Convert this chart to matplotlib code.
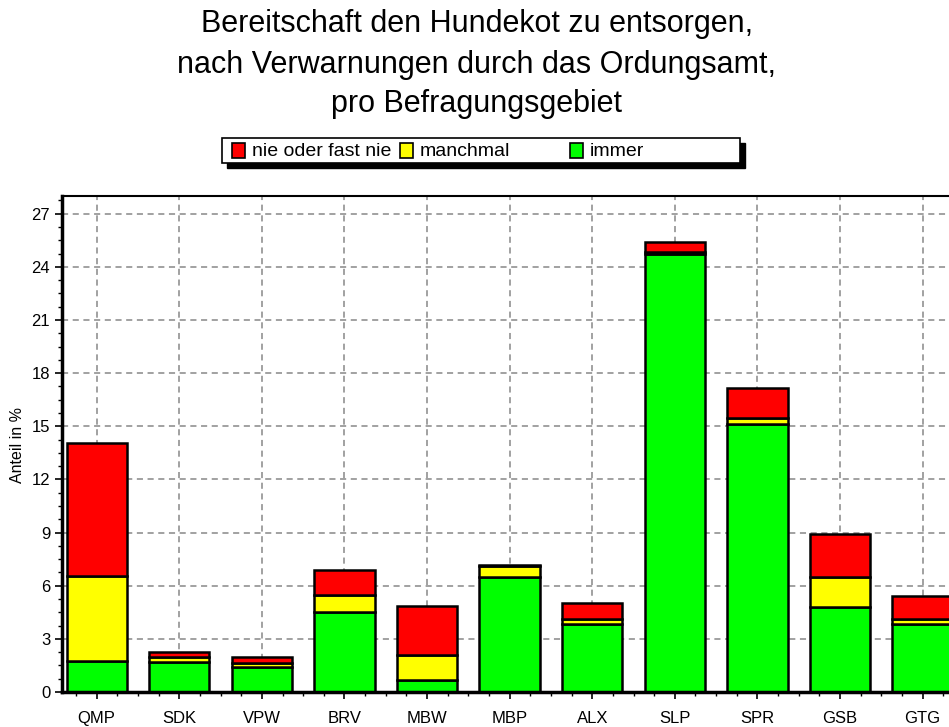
import numpy as np
import matplotlib
matplotlib.use("Agg")
import matplotlib.pyplot as plt
from matplotlib.patches import Rectangle
from matplotlib.ticker import MultipleLocator

# Anteil in % je Befragungsgebiet
gebiete = ["QMP", "SDK", "VPW", "BRV", "MBW", "MBP", "ALX", "SLP", "SPR", "GSB", "GTG"]
immer = [1.75, 1.7, 1.4, 4.5, 0.7, 6.5, 3.85, 24.75, 15.15, 4.8, 3.85]
manchmal = [4.8, 0.25, 0.25, 1.0, 1.4, 0.6, 0.25, 0.08, 0.3, 1.7, 0.28]
nie = [7.5, 0.3, 0.35, 1.4, 2.75, 0.05, 0.9, 0.6, 1.7, 2.4, 1.3]

legend_labels = ["nie oder fast nie", "manchmal", "immer"]
colors = ["#ff0000", "#ffff00", "#00ff00"]
title_lines = ["Bereitschaft den Hundekot zu entsorgen,",
               "nach Verwarnungen durch das Ordungsamt,",
               "pro Befragungsgebiet"]

plt.rcParams["font.family"] = ["Liberation Sans", "DejaVu Sans"]

W, H = 949, 727


def fx(px):
    return px / W


def fy(py):
    return 1 - py / H


fig = plt.figure(figsize=(W / 100, H / 100), dpi=100)
ax = fig.add_axes([fx(62), fy(692), fx(968) - fx(62), fy(196) - fy(692)])

x = np.arange(len(gebiete))
width = 0.73
kw = dict(width=width, edgecolor="black", linewidth=1.8, zorder=3)
ax.bar(x, immer, color=colors[2], **kw)
ax.bar(x, manchmal, bottom=immer, color=colors[1], **kw)
ax.bar(x, nie, bottom=np.add(immer, manchmal), color=colors[0], **kw)

ax.set_xlim(-0.42, 10.55)
ax.set_ylim(0, 28)
ax.set_xticks(x)
ax.set_xticklabels(gebiete)
ax.xaxis.set_minor_locator(MultipleLocator(0.25))
ax.yaxis.set_major_locator(MultipleLocator(3))
ax.yaxis.set_minor_locator(MultipleLocator(0.75))
ax.tick_params(axis="both", which="major", labelsize=12, length=5, width=1.2, colors="black")
ax.tick_params(axis="both", which="minor", length=3, width=1)
ax.tick_params(axis="x", pad=9)
ax.grid(True, which="major", linestyle=(0, (4, 3)), color="#888888", linewidth=1.1, zorder=0)
ax.set_axisbelow(True)

ax.spines["left"].set_linewidth(2.5)
ax.spines["bottom"].set_linewidth(2.5)
ax.spines["top"].set_linewidth(1.5)
ax.spines["right"].set_visible(False)
for s in ax.spines.values():
    s.set_zorder(5)

fig.text(fx(18), fy(445), "Anteil in %", rotation=90, fontsize=11.5,
         ha="center", va="center")

# Titel
for line, base in zip(title_lines, [32, 73, 112]):
    fig.text(fx(477), fy(base), line, fontsize=22, ha="center", va="baseline")

# Legende mit Schatten
fig.patches.append(Rectangle((fx(227), fy(168)), fx(518), fy(138) - fy(163),
                             transform=fig.transFigure, facecolor="black",
                             edgecolor="black", zorder=1))
fig.patches.append(Rectangle((fx(222), fy(163)), fx(518), fy(138) - fy(163),
                             transform=fig.transFigure, facecolor="white",
                             edgecolor="black", linewidth=1.2, zorder=2))
for lab, col, px in zip(legend_labels, colors, [232, 400, 570]):
    fig.patches.append(Rectangle((fx(px), fy(158)), fx(13), fy(143) - fy(158),
                                 transform=fig.transFigure, facecolor=col,
                                 edgecolor="black", linewidth=1.2, zorder=3))
    fig.text(fx(px + 20), fy(151), lab, fontsize=14, ha="left", va="center", zorder=4)

fig.savefig("out.png", dpi=100)
